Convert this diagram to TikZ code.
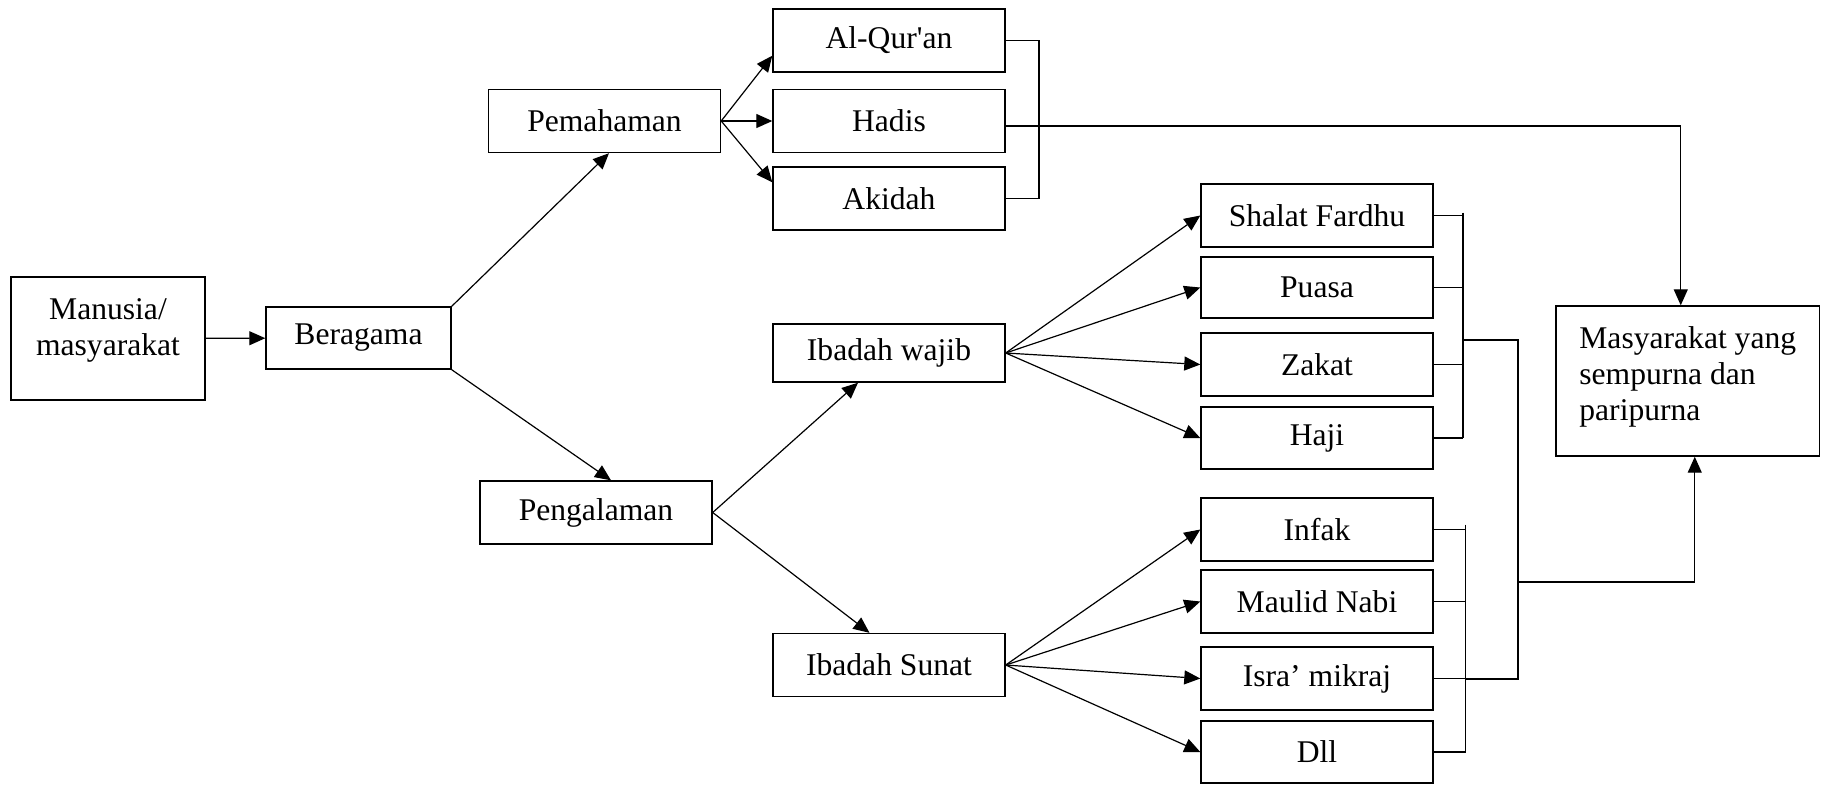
\documentclass[tikz,border=0pt]{standalone}
\usepackage{fontspec}
\setmainfont{Liberation Serif}
\usetikzlibrary{arrows.meta,calc,positioning}
\tikzset{
  box/.style={draw, line width=0.7pt, align=center, minimum width=116pt, minimum height=31.5pt,
              inner sep=2pt, font=\fontsize{15.8}{18}\selectfont},
  arr/.style={-{Triangle[length=8pt,width=7pt]}, line width=0.6pt},
  ln/.style={line width=0.6pt},
}

\begin{document}
\begin{tikzpicture}[x=0.5pt, y=-0.5pt]
\useasboundingbox (0,0) rectangle (1826,784);
% left part
\node[box, minimum width=97pt, minimum height=61.5pt] (manusia) at (108,338.5) {Manusia/\\masyarakat\\[-7pt]};
\node[box, minimum width=92.5pt, minimum height=31pt] (beragama) at (358.5,338) {Beragama};
\node[box] (pemahaman) at (604.5,121) {Pemahaman};
\node[box] (pengalaman) at (596,512.5) {Pengalaman};
% pemahaman
\node[box] (alquran) at (889,40.5) {Al-Qur\textquotesingle an};
\node[box] (hadis) at (889,121) {Hadis};
\node[box] (akidah) at (889,198.5) {Akidah};
% pengalaman
\node[box, minimum height=29pt] (wajib) at (889,353) {Ibadah wajib};
\node[box] (sunat) at (889,665) {Ibadah Sunat};
\node[box] (shalat) at (1317,215.5) {Shalat Fardhu};
\node[box, minimum height=30.5pt] (puasa) at (1317,287.5) {Puasa};
\node[box] (zakat) at (1317,364.5) {Zakat};
\node[box, minimum height=31pt] (haji) at (1317,438) {Haji};
\node[box] (infak) at (1317,529.5) {Infak};
\node[box] (maulid) at (1317,601.5) {Maulid Nabi};
\node[box] (isra) at (1317,678.5) {Isra’ mikraj};
\node[box, minimum height=31pt] (dll) at (1317,752) {Dll};
% goal
\node[box, align=left, minimum width=131.75pt, minimum height=75pt] (masy) at (1687.75,381) {Masyarakat yang\\sempurna dan\\paripurna\\[-11pt]};

\coordinate (qbar) at (1039,121);
\coordinate (wbar) at (1463,340);
\coordinate (sbar) at (1465.5,679);
\coordinate (join) at (1518,582);

\draw[arr] (manusia) -- (beragama);
\draw[arr] (beragama.north east) -- ($(pemahaman.south)+(4.5,0)$);
\draw[arr] (beragama.south east) -- ($(pengalaman.north)+(15,0)$);
\draw[arr] (pemahaman.east) -- ($(alquran.south west)+(0,-17)$);
\draw[arr] (pemahaman.east) -- (hadis.west);
\draw[arr] (pemahaman.east) -- ($(akidah.north west)+(0,16)$);
\draw[arr] (pengalaman.east) -- ($(wajib.south)+(-31,0)$);
\draw[arr] (pengalaman.east) -- ($(sunat.north)+(-19.5,0)$);
\foreach \n in {shalat,puasa,zakat,haji}
  \draw[arr] (wajib.east) -- (\n.west);
\foreach \n in {infak,maulid,isra,dll}
  \draw[arr] (sunat.east) -- (\n.west);

% brackets
\draw[ln] (alquran.east) -| (qbar) |- (akidah.east);
\draw[arr] ([yshift=-2.5pt]hadis.east) -| ($(masy.north)+(-7,0)$);
\foreach \n in {shalat,puasa,zakat,haji}
  \draw[ln] (\n.east) -- (\n.east -| wbar);
\draw[ln] ([yshift=1.5pt]shalat.east -| wbar) -- (haji.east -| wbar);
\foreach \n in {infak,maulid,isra,dll}
  \draw[ln] (\n.east) -- (\n.east -| sbar);
\draw[ln] ([yshift=2.5pt]infak.east -| sbar) -- (dll.east -| sbar);
\draw[ln] (wbar) -| (join);
\draw[ln] (sbar) -| (join);
\draw[arr] (join) -| ($(masy.south)+(7,0)$);
\end{tikzpicture}
\end{document}
